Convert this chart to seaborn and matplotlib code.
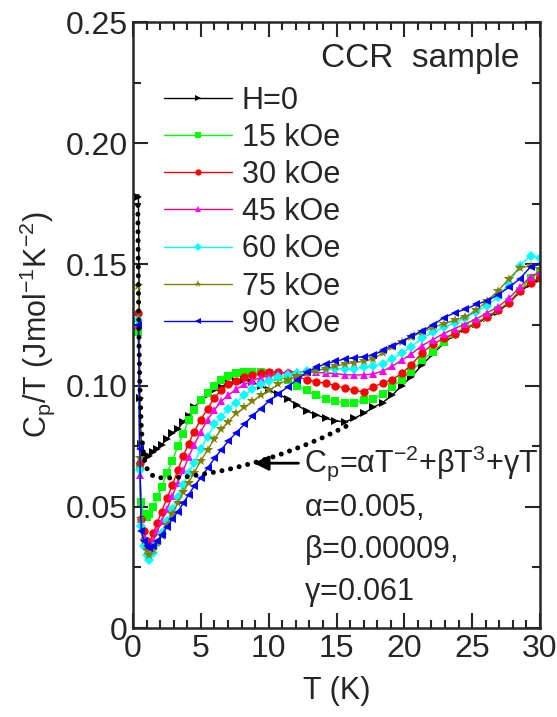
import numpy as np
import pandas as pd
import matplotlib
matplotlib.use("Agg")
import matplotlib.pyplot as plt
import seaborn as sns
from matplotlib.ticker import MultipleLocator

# ---------------- data ----------------
T = [0.4, 0.5, 0.6, 0.8, 1.0, 1.2, 1.5, 1.8, 2.1, 2.5,
     2.9, 3.3, 3.7, 4.1, 4.5, 5.0, 5.5, 6.0, 6.5, 7.0,
     7.6, 8.2, 8.8, 9.4, 10.0, 10.7, 11.4, 12.1, 12.8, 13.5,
     14.2, 14.9, 15.6, 16.3, 17.0, 17.7, 18.4, 19.1, 19.8, 20.5,
     21.3, 22.1, 22.9, 23.7, 24.5, 25.3, 26.1, 26.9, 27.7, 28.5,
     29.3, 30.0]

H0 = [0.178, 0.095, 0.076, 0.0715, 0.0705, 0.071, 0.0725, 0.074, 0.0755, 0.078,
      0.0805, 0.082, 0.085, 0.0875, 0.091, 0.094, 0.096, 0.098, 0.0995, 0.101,
      0.102, 0.1023, 0.1015, 0.100, 0.098, 0.0965, 0.0945, 0.092, 0.0895, 0.088,
      0.0865, 0.0855, 0.085, 0.0865, 0.0885, 0.091, 0.093, 0.096, 0.100, 0.1035,
      0.1085, 0.113, 0.1175, 0.121, 0.1235, 0.1255, 0.128, 0.1305, 0.134, 0.1385,
      0.142, 0.144]

H15 = [0.122, 0.067, 0.052, 0.047, 0.046, 0.047, 0.050, 0.054, 0.058, 0.064,
       0.069, 0.075, 0.080, 0.086, 0.090, 0.094, 0.097, 0.100, 0.1025, 0.104,
       0.105, 0.1055, 0.1058, 0.1055, 0.105, 0.1035, 0.1025, 0.100, 0.098, 0.096,
       0.0945, 0.0935, 0.093, 0.0928, 0.094, 0.0945, 0.0965, 0.0995, 0.1025, 0.1056,
       0.1105, 0.114, 0.118, 0.1215, 0.124, 0.126, 0.1285, 0.131, 0.1345, 0.139,
       0.1445, 0.1465]

H30 = [0.130, 0.068, 0.045, 0.040, 0.036, 0.035, 0.039, 0.0435, 0.048, 0.0535,
       0.059, 0.065, 0.071, 0.076, 0.081, 0.086, 0.0905, 0.095, 0.098, 0.1005,
       0.102, 0.1035, 0.1045, 0.105, 0.1055, 0.1057, 0.105, 0.1036, 0.1025, 0.1015,
       0.101, 0.100, 0.099, 0.098, 0.0975, 0.0995, 0.101, 0.1025, 0.105, 0.1085,
       0.1135, 0.117, 0.1195, 0.1215, 0.1235, 0.1255, 0.1285, 0.131, 0.134, 0.139,
       0.1425, 0.1445]

H45 = [0.125, 0.063, 0.045, 0.038, 0.034, 0.033, 0.036, 0.040, 0.044, 0.049,
       0.0545, 0.060, 0.065, 0.0705, 0.0755, 0.081, 0.086, 0.090, 0.0935, 0.096,
       0.0985, 0.1005, 0.102, 0.1033, 0.104, 0.105, 0.1056, 0.1058, 0.1056, 0.1055,
       0.1052, 0.105, 0.1045, 0.1044, 0.1044, 0.1048, 0.106, 0.108, 0.1105, 0.113,
       0.1165, 0.119, 0.1215, 0.1235, 0.1255, 0.1275, 0.130, 0.1325, 0.136, 0.1405,
       0.145, 0.147]

H60 = [0.127, 0.065, 0.042, 0.034, 0.030, 0.028, 0.031, 0.035, 0.039, 0.044,
       0.049, 0.054, 0.059, 0.064, 0.068, 0.074, 0.079, 0.084, 0.087, 0.0905,
       0.093, 0.096, 0.0985, 0.1005, 0.102, 0.1035, 0.1045, 0.105, 0.106, 0.1065,
       0.1068, 0.107, 0.107, 0.107, 0.1075, 0.108, 0.109, 0.111, 0.1135, 0.116,
       0.1195, 0.122, 0.124, 0.126, 0.128, 0.1305, 0.133, 0.1365, 0.142, 0.1495,
       0.1535, 0.1525]

H75 = [0.141, 0.070, 0.045, 0.036, 0.032, 0.030, 0.032, 0.035, 0.038, 0.0425,
       0.047, 0.0515, 0.056, 0.060, 0.064, 0.069, 0.0735, 0.078, 0.082, 0.085,
       0.0885, 0.091, 0.0935, 0.096, 0.098, 0.1005, 0.1025, 0.104, 0.105, 0.1062,
       0.107, 0.108, 0.1088, 0.1095, 0.110, 0.111, 0.1135, 0.116, 0.118, 0.120,
       0.122, 0.124, 0.1255, 0.127, 0.1285, 0.131, 0.135, 0.139, 0.144, 0.1485,
       0.1495, 0.148]

H90 = [0.125, 0.074, 0.040, 0.036, 0.034, 0.033, 0.034, 0.036, 0.0385, 0.0415,
       0.045, 0.048, 0.0515, 0.055, 0.0585, 0.062, 0.066, 0.070, 0.0735, 0.077,
       0.0805, 0.084, 0.0875, 0.0905, 0.0935, 0.0965, 0.0995, 0.1025, 0.1055, 0.1075,
       0.109, 0.110, 0.111, 0.1115, 0.112, 0.1125, 0.1145, 0.1165, 0.118, 0.1205,
       0.1225, 0.125, 0.128, 0.130, 0.1315, 0.1335, 0.135, 0.1375, 0.1405, 0.144,
       0.149, 0.150]

labels = ["H=0", "15 kOe", "30 kOe", "45 kOe", "60 kOe", "75 kOe", "90 kOe"]
series = [H0, H15, H30, H45, H60, H75, H90]

# fit curve  Cp/T = a T^-3 + b T^2 + g
T_fit = [0.35, 0.4, 0.45, 0.5, 0.6, 0.7, 0.8, 0.9, 1.0, 1.2, 1.5, 2.0, 2.5, 3.0,
         4.0, 5.0, 6.0, 7.0, 8.0, 9.0, 10.0, 11.0, 12.0, 13.0, 14.0, 15.0, 16.0]
fit = [0.178, 0.1391, 0.1159, 0.1010, 0.0842, 0.0756, 0.0708, 0.0679, 0.0661, 0.0640,
       0.0627, 0.0620, 0.0619, 0.0620, 0.0625, 0.0633, 0.0643, 0.0654, 0.0668, 0.0683,
       0.0700, 0.0719, 0.0740, 0.0762, 0.0786, 0.0813, 0.0840]

x_ticks = [0, 5, 10, 15, 20, 25, 30]
y_ticks = [0, 0.05, 0.10, 0.15, 0.20, 0.25]
y_ticklabels = ["0", "0.05", "0.10", "0.15", "0.20", "0.25"]

# ---------------- style ----------------
colors = ["#000000", "#00ff00", "#ff0000", "#ff00ff", "#00ffff", "#808000", "#0000ff"]
line_colors = ["#000000", "#00ff00", "#ff0000", "#ff0080", "#00ffff", "#808000", "#0000ff"]
markers = [">", "s", "o", "^", "D", "*", "<"]
msizes = [5.5, 5.5, 6, 6, 5.5, 7, 6]

sns.set_style("ticks")
plt.rcParams["font.family"] = ["Liberation Sans", "DejaVu Sans"]
plt.rcParams["mathtext.fontset"] = "custom"
plt.rcParams["mathtext.rm"] = "Liberation Sans"
plt.rcParams["mathtext.it"] = "Liberation Sans:italic"
plt.rcParams["mathtext.default"] = "regular"

FS_TICK = 23
FS_LEG = 22
FS_LAB = 22
FS_TXT = 22

fig = plt.figure(figsize=(5.57, 7.17), dpi=100)
ax = fig.add_axes([0.2388, 0.1241, 0.7307, 0.8452])

for lab, vals, c, lc, m, ms in zip(labels, series, colors, line_colors, markers, msizes):
    df = pd.DataFrame({"T": T, "v": vals})
    sns.lineplot(data=df, x="T", y="v", ax=ax, color=lc, linewidth=1.0,
                 marker=m, markersize=ms, markerfacecolor=c, markeredgecolor=c,
                 markeredgewidth=0, label=lab, sort=False, estimator=None)

df_fit = pd.DataFrame({"T": T_fit, "v": fit})
sns.lineplot(data=df_fit, x="T", y="v", ax=ax, color="black", linewidth=3.6,
             linestyle=(0, (0.01, 1.75)), dash_capstyle="round", legend=False,
             sort=False, estimator=None)

ax.set_xlim(0, 30)
ax.set_ylim(0, 0.25)
ax.set_xticks(x_ticks)
ax.set_yticks(y_ticks)
ax.set_yticklabels(y_ticklabels)
ax.xaxis.set_minor_locator(MultipleLocator(1))
ax.yaxis.set_minor_locator(MultipleLocator(0.025))
ax.tick_params(which="both", direction="in", top=True, right=True, width=1.5,
               labelsize=FS_TICK, pad=4)
ax.tick_params(which="major", length=11)
ax.tick_params(which="minor", length=6)
for s in ax.spines.values():
    s.set_linewidth(1.8)
    s.set_visible(True)

ax.set_xlabel("T (K)", fontsize=FS_LAB, labelpad=9)
ax.set_ylabel(r"C$_\mathregular{p}$/T (Jmol$^\mathregular{-1}$K$^\mathregular{-2}$)",
              fontsize=FS_LAB, labelpad=6)

leg = ax.legend(loc="upper left", bbox_to_anchor=(0.077, 0.895), frameon=False,
                fontsize=FS_LEG, handlelength=2.2, handletextpad=0.33,
                labelspacing=0.235, borderpad=0, borderaxespad=0, markerscale=0.75)

ax.text(0.95, 0.94, "CCR  sample", transform=ax.transAxes, ha="right", va="center",
        fontsize=24)

ax.annotate("", xy=(8.7, 0.068), xytext=(12.4, 0.068),
            arrowprops=dict(arrowstyle="-|>", color="black", lw=2, mutation_scale=22))
ax.text(12.6, 0.068,
        r"C$_\mathregular{p}$=$\alpha$T$^\mathregular{-2}$+$\beta$T$^\mathregular{3}$+$\gamma$T",
        fontsize=FS_TXT, ha="left", va="center")
ax.text(12.6, 0.0495, r"$\alpha$=0.005,", fontsize=FS_TXT, ha="left", va="center")
ax.text(12.6, 0.0322, r"$\beta$=0.00009,", fontsize=FS_TXT, ha="left", va="center")
ax.text(12.6, 0.0148, r"$\gamma$=0.061", fontsize=FS_TXT, ha="left", va="center")

fig.savefig("out.png", dpi=100)
